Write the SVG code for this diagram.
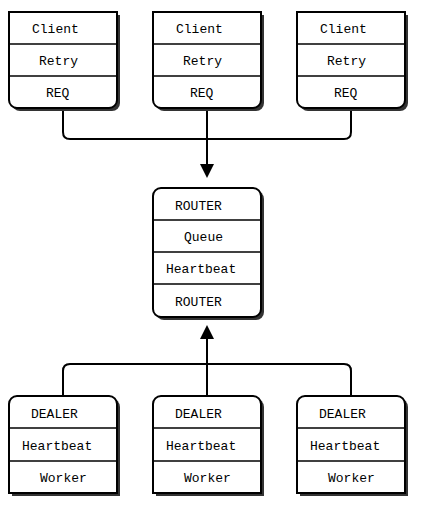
<svg xmlns="http://www.w3.org/2000/svg" width="429" height="508" viewBox="0 0 429 508">
<defs>
<style>
.box{fill:#fff;stroke:#000;stroke-width:2}
.sh{fill:#333;stroke:none}
.div{stroke:#000;stroke-width:1.6}
.con{fill:none;stroke:#000;stroke-width:2}
.ah{fill:#000}
text{font-family:"Liberation Mono","DejaVu Sans Mono",monospace;font-size:13px;fill:#000}
</style>
<path id="cb" d="M0,0 H108 V88 A8,8 0 0 1 100,96 H8 A8,8 0 0 1 0,88 Z"/>
<path id="db" d="M0,8 A8,8 0 0 1 8,0 H100 A8,8 0 0 1 108,8 V97 H0 Z"/>
</defs>
<rect width="429" height="508" fill="#fff"/>
<g id="connectors">
<path class="con" d="M63,108 V132 Q63,139 70,139 H344 Q351,139 351,132 V108"/>
<path class="con" d="M207,108 V166"/>
<polygon class="ah" points="200,164 214,164 207,178"/>
<path class="con" d="M63,396 V371 Q63,364 70,364 H344 Q351,364 351,371 V396"/>
<path class="con" d="M207,396 V336"/>
<polygon class="ah" points="200,339 214,339 207,325"/>
</g>
<g id="client1">
<use href="#cb" x="12" y="15" class="sh"/>
<use href="#cb" x="9" y="12" class="box"/>
<line class="div" x1="9" y1="44" x2="117" y2="44"/>
<line class="div" x1="9" y1="76" x2="117" y2="76"/>
<text x="32" y="33">Client</text>
<text x="39" y="65">Retry</text>
<text x="46" y="97">REQ</text>
</g>
<g id="client2">
<use href="#cb" x="156" y="15" class="sh"/>
<use href="#cb" x="153" y="12" class="box"/>
<line class="div" x1="153" y1="44" x2="261" y2="44"/>
<line class="div" x1="153" y1="76" x2="261" y2="76"/>
<text x="176" y="33">Client</text>
<text x="183" y="65">Retry</text>
<text x="190" y="97">REQ</text>
</g>
<g id="client3">
<use href="#cb" x="300" y="15" class="sh"/>
<use href="#cb" x="297" y="12" class="box"/>
<line class="div" x1="297" y1="44" x2="405" y2="44"/>
<line class="div" x1="297" y1="76" x2="405" y2="76"/>
<text x="320" y="33">Client</text>
<text x="327" y="65">Retry</text>
<text x="334" y="97">REQ</text>
</g>
<g id="router">
<rect x="156" y="191" width="108" height="129" rx="8" class="sh"/>
<rect x="153" y="188" width="108" height="129" rx="8" class="box"/>
<line class="div" x1="153" y1="220" x2="261" y2="220"/>
<line class="div" x1="153" y1="252" x2="261" y2="252"/>
<line class="div" x1="153" y1="284" x2="261" y2="284"/>
<text x="175" y="209.5">ROUTER</text>
<text x="184" y="241">Queue</text>
<text x="166" y="273">Heartbeat</text>
<text x="175" y="305.5">ROUTER</text>
</g>
<g id="dealer1">
<use href="#db" x="12" y="399" class="sh"/>
<use href="#db" x="9" y="396" class="box"/>
<line class="div" x1="9" y1="428" x2="117" y2="428"/>
<line class="div" x1="9" y1="461" x2="117" y2="461"/>
<text x="31" y="417.5">DEALER</text>
<text x="22" y="449.5">Heartbeat</text>
<text x="40" y="481.5">Worker</text>
</g>
<g id="dealer2">
<use href="#db" x="156" y="399" class="sh"/>
<use href="#db" x="153" y="396" class="box"/>
<line class="div" x1="153" y1="428" x2="261" y2="428"/>
<line class="div" x1="153" y1="461" x2="261" y2="461"/>
<text x="175" y="417.5">DEALER</text>
<text x="166" y="449.5">Heartbeat</text>
<text x="184" y="481.5">Worker</text>
</g>
<g id="dealer3">
<use href="#db" x="300" y="399" class="sh"/>
<use href="#db" x="297" y="396" class="box"/>
<line class="div" x1="297" y1="428" x2="405" y2="428"/>
<line class="div" x1="297" y1="461" x2="405" y2="461"/>
<text x="319" y="417.5">DEALER</text>
<text x="310" y="449.5">Heartbeat</text>
<text x="328" y="481.5">Worker</text>
</g>
</svg>
